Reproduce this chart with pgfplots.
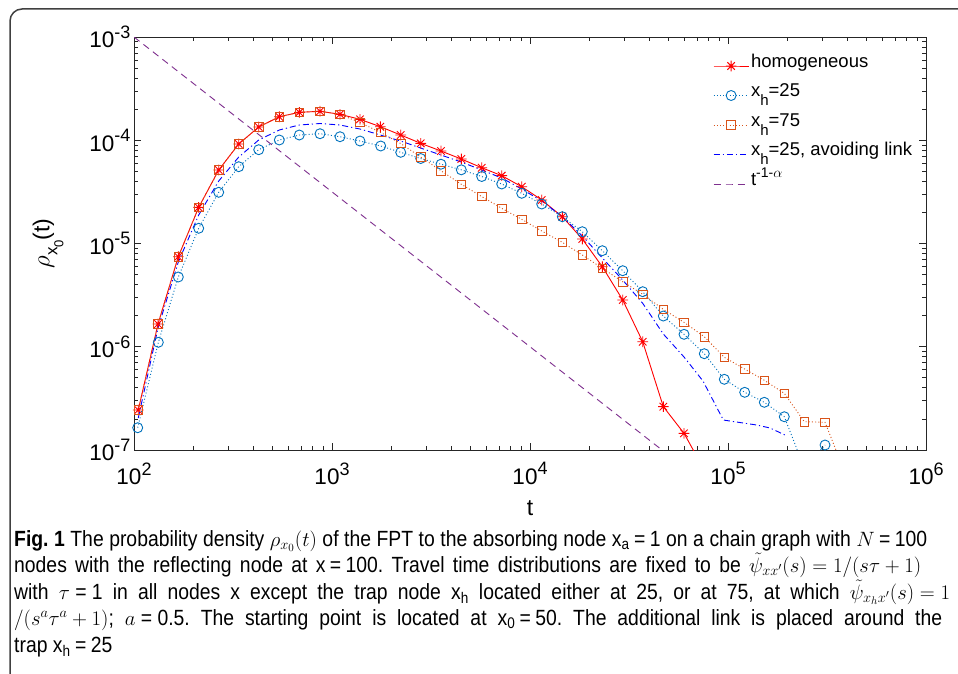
\documentclass[border=0pt]{standalone}
\usepackage{fontspec}
\setmainfont{Liberation Sans}
\newfontfamily\capfont[FakeStretch=0.88]{Liberation Sans}
\usepackage{pgfplots}
\usepackage{pgfplotstable}
\pgfplotsset{compat=1.18}

\definecolor{mred}{RGB}{255,0,0}
\definecolor{mblue}{RGB}{0,114,189}
\definecolor{morange}{RGB}{217,83,25}
\definecolor{mpure}{RGB}{0,0,255}
\definecolor{mpurple}{RGB}{126,47,142}

\pgfdeclareplotmark{mstar}{%
 \pgfpathmoveto{\pgfqpoint{-\pgfplotmarksize}{0pt}}\pgfpathlineto{\pgfqpoint{\pgfplotmarksize}{0pt}}%
 \pgfpathmoveto{\pgfqpoint{0pt}{-\pgfplotmarksize}}\pgfpathlineto{\pgfqpoint{0pt}{\pgfplotmarksize}}%
 \pgfpathmoveto{\pgfqpoint{-.7071\pgfplotmarksize}{-.7071\pgfplotmarksize}}\pgfpathlineto{\pgfqpoint{.7071\pgfplotmarksize}{.7071\pgfplotmarksize}}%
 \pgfpathmoveto{\pgfqpoint{-.7071\pgfplotmarksize}{.7071\pgfplotmarksize}}\pgfpathlineto{\pgfqpoint{.7071\pgfplotmarksize}{-.7071\pgfplotmarksize}}%
 \pgfusepathqstroke}

\newcommand{\tp}[1]{10\raisebox{0.42em}{\fontsize{18}{18}\selectfont #1}}
\newcommand{\lsub}[1]{\raisebox{-0.5em}{\fontsize{15}{15}\selectfont #1}}
\newcommand{\eq}{\hspace{0.2em}=\hspace{0.2em}}

\pgfplotstableread{
t rho
105.1 2.44e-7
132.2 1.66e-6
167.4 7.45e-6
212.2 2.24e-5
267.8 5.15e-5
338.0 9.20e-5
426.5 1.344e-4
541.8 1.69e-4
683.7 1.865e-4
869.8 1.908e-4
1097.5 1.784e-4
1385 1.595e-4
1754 1.353e-4
2223 1.124e-4
2805 9.34e-5
3552 7.87e-5
4498 6.58e-5
5703 5.42e-5
7196 4.54e-5
9081 3.55e-5
11458 2.64e-5
14560 1.818e-5
18372 1.105e-5
23184 5.96e-6
29390 2.84e-6
37087 1.119e-6
47120 2.63e-7
59963 1.451e-7
75910 6.4e-8
}\homog

\pgfplotstableread{
t rho
104.4 1.644e-7
132.7 1.104e-6
167.4 4.738e-6
212.2 1.404e-5
267.8 3.133e-5
338.0 5.543e-5
426.5 8.100e-5
541.8 1.006e-4
683.7 1.124e-4
869.8 1.157e-4
1097.5 1.082e-4
1385 9.83e-5
1762 8.80e-5
2223 7.643e-5
2805 6.656e-5
3552 5.861e-5
4498 5.172e-5
5703 4.456e-5
7196 3.771e-5
9081 3.064e-5
11458 2.413e-5
14560 1.818e-5
18372 1.301e-5
23184 8.518e-6
29390 5.453e-6
37087 3.414e-6
47120 1.985e-6
59963 1.320e-6
75910 8.565e-7
95788 4.839e-7
121420 3.621e-7
152530 2.897e-7
192450 2.101e-7
242890 6.69e-8
309030 1.118e-7
}\xtwentyfive

\pgfplotstableread{
t rho
105.1 2.44e-7
132.2 1.66e-6
167.4 7.45e-6
212.2 2.24e-5
267.8 5.15e-5
338.0 9.20e-5
426.5 1.344e-4
541.8 1.69e-4
683.7 1.865e-4
869.8 1.908e-4
1097.5 1.784e-4
1385 1.485e-4
1762 1.189e-4
2223 9.30e-5
2805 6.883e-5
3552 5.071e-5
4498 3.745e-5
5703 2.852e-5
7196 2.192e-5
9081 1.716e-5
11458 1.322e-5
14560 1.027e-5
18372 7.737e-6
23184 5.751e-6
29390 4.266e-6
37087 3.221e-6
47120 2.305e-6
59963 1.725e-6
75910 1.251e-6
95788 7.904e-7
121420 6.088e-7
152530 4.733e-7
192450 3.541e-7
242890 1.880e-7
309030 1.855e-7
389830 5.99e-8
}\xseventyfive

\pgfplotstableread{
t rho
105.1 2.04e-7
132.2 1.519e-6
167.4 6.62e-6
212.2 1.888e-5
267.8 4.03e-5
338.0 6.88e-5
426.5 1.006e-4
541.8 1.257e-4
683.7 1.405e-4
869.8 1.453e-4
1097.5 1.405e-4
1385 1.285e-4
1754 1.124e-4
2223 9.83e-5
2805 8.41e-5
3552 7.196e-5
4498 6.156e-5
5703 5.15e-5
7196 4.31e-5
9081 3.372e-5
11458 2.58e-5
14560 1.818e-5
18372 1.182e-5
23184 7.237e-6
29390 4.43e-6
37087 2.635e-6
47120 1.329e-6
59963 7.957e-7
74760 4.66e-7
94690 1.952e-7
139600 1.746e-7
163000 1.634e-7
194100 1.397e-7
}\avoid

\pgfplotstableread{
t rho
100 1e-3
100000 3.1623e-8
}\powerlaw

\begin{document}
\frenchspacing
\begin{tikzpicture}
\useasboundingbox (0,0) rectangle (958pt,673pt);
\fill[white] (0,0) rectangle (958pt,673pt);
\draw[line width=1.5pt, black!75, rounded corners=12pt] (10pt,-10pt) -- (10pt,664pt) -- (975pt,664pt);

\begin{axis}[
  at={(134pt,223pt)}, anchor=south west,
  scale only axis, width=792pt, height=413pt,
  xmode=log, ymode=log,
  xmin=100, xmax=1e6, ymin=1e-7, ymax=1e-3,
  xtick={1e2,1e3,1e4,1e5,1e6},
  xticklabels={\tp{2},\tp{3},\tp{4},\tp{5},\tp{6}},
  ytick={1e-7,1e-6,1e-5,1e-4,1e-3},
  yticklabels={\tp{-7},\tp{-6},\tp{-5},\tp{-4},\tp{-3}},
  minor xtick={200,300,400,500,600,700,800,900,2000,3000,4000,5000,6000,7000,8000,9000,20000,30000,40000,50000,60000,70000,80000,90000,200000,300000,400000,500000,600000,700000,800000,900000},
  minor ytick={2e-7,3e-7,4e-7,5e-7,6e-7,7e-7,8e-7,9e-7,2e-6,3e-6,4e-6,5e-6,6e-6,7e-6,8e-6,9e-6,2e-5,3e-5,4e-5,5e-5,6e-5,7e-5,8e-5,9e-5,2e-4,3e-4,4e-4,5e-4,6e-4,7e-4,8e-4,9e-4},
  tick align=inside, major tick length=7pt, minor tick length=4pt,
  axis line style={black!85, line width=0.9pt},
  every tick/.style={black!85, line width=0.8pt},
  ticklabel style={font=\fontsize{22.5}{24}\selectfont},
  xticklabel style={yshift=-9pt},
  xlabel={t},
  ylabel={$\rho$\raisebox{-0.35em}{\fontsize{17}{17}\selectfont x\raisebox{-0.35em}{\fontsize{13}{13}\selectfont 0}}(t)},
  xlabel style={at={(axis description cs:0.5,-0.14)}, anchor=center, font=\fontsize{23}{24}\selectfont},
  ylabel style={at={(axis description cs:-0.1086,0.5)}, anchor=center, font=\fontsize{23}{24}\selectfont},
  legend style={at={(axis description cs:0.731,0.966)}, anchor=north west, draw=none, fill=none,
     font=\fontsize{18.5}{20}\selectfont, inner sep=0pt,
     nodes={inner xsep=2pt, inner ysep=3pt, text height=13pt, text depth=10.5pt}},
  legend cell align=left,
  legend image code/.code={\draw[mark repeat=2,mark phase=2,#1] plot coordinates {(0pt,0pt) (17.5pt,0pt) (35pt,0pt)};},
]
\addplot[mred, line width=0.9pt, mark=mstar, mark size=5.3pt, mark options={solid, line width=0.9pt}] table[x=t,y=rho] {\homog};
\addlegendentry{homogeneous}
\addplot[mblue, line width=0.9pt, dash pattern=on 1pt off 2.2pt, mark=o, mark size=5pt, mark options={solid, line width=0.9pt}] table[x=t,y=rho] {\xtwentyfive};
\addlegendentry{x\lsub{h}=25}
\addplot[morange, line width=0.9pt, dash pattern=on 1pt off 2.2pt, mark=square, mark size=4.3pt, mark options={solid, line width=0.9pt}] table[x=t,y=rho] {\xseventyfive};
\addlegendentry{x\lsub{h}=75}
\addplot[mpure, line width=0.9pt, dash pattern=on 6pt off 3pt on 1.2pt off 3pt] table[x=t,y=rho] {\avoid};
\addlegendentry{x\lsub{h}=25, avoiding link}
\addplot[mpurple, line width=0.9pt, dash pattern=on 7pt off 5pt] table[x=t,y=rho] {\powerlaw};
\addlegendentry{t\raisebox{0.4em}{\fontsize{14}{14}\selectfont -1-$\alpha$}}
\end{axis}

\begin{scope}[every node/.style={anchor=base west, inner sep=0pt, font=\capfont\fontsize{22}{24}\selectfont}]
\node at (14pt,127pt) {\makebox[913pt][s]{\textbf{Fig.\hspace{0.25em}1} The probability density \mbox{$\rho_{x_0}(t)$} of the FPT to the absorbing node x\textsubscript{a}\eq1 on a chain graph with \mbox{$N$}\eq100}};
\node at (14pt,101pt) {\makebox[907pt][s]{nodes with the reflecting node at x\eq100. Travel time distributions are fixed to be \mbox{$\tilde{\psi}_{xx'}(s) = 1/(s\tau + 1)$}}};
\node at (14pt,74pt) {\makebox[936pt][s]{with \mbox{$\tau$ = 1} in all nodes x except the trap node x\textsubscript{h} located either at 25, or at 75, at which \mbox{$\tilde{\psi}_{x_hx'}(s) = 1$}}};
\node at (14pt,48pt) {\makebox[928pt][s]{\mbox{$/(s^a\tau^a + 1)$}; \mbox{$a$ = 0.5}. The starting point is located at x\textsubscript{0}\eq50. The additional link is placed around the}};
\node at (14pt,21pt) {trap x\textsubscript{h}\eq25};
\end{scope}
\end{tikzpicture}
\end{document}
